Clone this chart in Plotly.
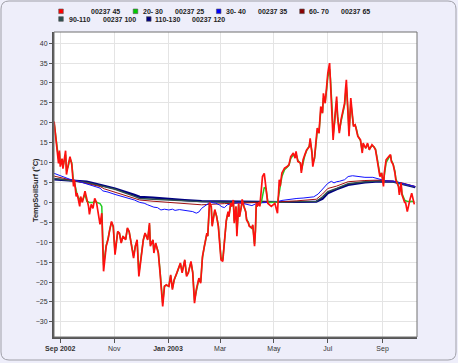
import plotly.graph_objects as go

# ---------------- data ----------------
surface_dates = [
    "2002-08-25", "2002-08-27", "2002-08-30", "2002-08-31",
    "2002-09-01", "2002-09-03", "2002-09-04", "2002-09-07", "2002-09-08", "2002-09-10", "2002-09-12", "2002-09-14",
    "2002-09-16", "2002-09-17", "2002-09-19", "2002-09-20", "2002-09-23", "2002-09-24", "2002-09-26", "2002-09-29",
    "2002-10-01", "2002-10-03", "2002-10-04", "2002-10-06", "2002-10-08", "2002-10-10", "2002-10-12", "2002-10-14",
    "2002-10-16", "2002-10-18", "2002-10-19", "2002-10-20", "2002-10-23", "2002-10-25", "2002-10-27", "2002-10-29", "2002-10-31",
    "2002-11-02", "2002-11-05", "2002-11-07", "2002-11-09", "2002-11-11", "2002-11-14", "2002-11-16", "2002-11-18",
    "2002-11-20", "2002-11-23", "2002-11-25", "2002-11-27", "2002-11-29",
    "2002-12-02", "2002-12-04", "2002-12-06", "2002-12-09", "2002-12-11", "2002-12-12", "2002-12-15", "2002-12-16",
    "2002-12-18", "2002-12-21", "2002-12-23", "2002-12-25", "2002-12-26", "2002-12-28", "2002-12-30",
    "2003-01-02", "2003-01-04", "2003-01-06", "2003-01-08", "2003-01-11", "2003-01-13", "2003-01-15", "2003-01-17",
    "2003-01-20", "2003-01-22", "2003-01-24", "2003-01-27", "2003-01-29", "2003-01-31",
    "2003-02-02", "2003-02-05", "2003-02-07", "2003-02-09", "2003-02-11", "2003-02-14", "2003-02-15", "2003-02-17",
    "2003-02-19", "2003-02-20", "2003-02-23", "2003-02-25", "2003-02-27",
    "2003-03-01", "2003-03-02", "2003-03-04", "2003-03-06", "2003-03-08", "2003-03-10", "2003-03-11", "2003-03-13",
    "2003-03-14", "2003-03-16", "2003-03-17", "2003-03-19", "2003-03-20", "2003-03-22", "2003-03-23", "2003-03-25",
    "2003-03-26", "2003-03-28", "2003-03-30", "2003-03-31",
    "2003-04-02", "2003-04-03", "2003-04-06", "2003-04-07", "2003-04-09", "2003-04-10", "2003-04-11", "2003-04-12",
    "2003-04-14", "2003-04-15", "2003-04-17", "2003-04-18", "2003-04-20", "2003-04-22", "2003-04-24", "2003-04-26",
    "2003-04-28", "2003-04-30",
    "2003-05-02", "2003-05-04", "2003-05-05", "2003-05-07", "2003-05-08", "2003-05-10", "2003-05-13", "2003-05-16",
    "2003-05-18", "2003-05-20", "2003-05-23", "2003-05-25", "2003-05-26", "2003-05-28", "2003-05-31",
    "2003-06-01", "2003-06-03", "2003-06-05", "2003-06-07", "2003-06-10", "2003-06-11", "2003-06-13", "2003-06-14",
    "2003-06-16", "2003-06-19", "2003-06-21", "2003-06-23", "2003-06-25", "2003-06-26", "2003-06-28", "2003-06-30",
    "2003-07-01", "2003-07-03", "2003-07-04", "2003-07-06", "2003-07-07", "2003-07-09", "2003-07-11", "2003-07-12",
    "2003-07-14", "2003-07-16", "2003-07-18", "2003-07-20", "2003-07-21", "2003-07-22", "2003-07-24", "2003-07-25",
    "2003-07-27", "2003-07-28", "2003-07-30",
    "2003-08-01", "2003-08-02", "2003-08-04", "2003-08-07", "2003-08-09", "2003-08-10", "2003-08-13", "2003-08-15",
    "2003-08-17", "2003-08-20", "2003-08-22", "2003-08-24", "2003-08-26", "2003-08-28", "2003-08-29", "2003-08-31",
    "2003-09-02", "2003-09-03", "2003-09-05", "2003-09-08", "2003-09-10", "2003-09-11", "2003-09-13", "2003-09-15",
    "2003-09-16", "2003-09-19", "2003-09-20", "2003-09-22", "2003-09-23", "2003-09-26", "2003-09-27", "2003-09-29",
    "2003-09-30",
    "2003-10-02", "2003-10-04", "2003-10-05", "2003-10-07",
]

temp_00237_45 = [
    20.3, 16.5, 9.8, 13.0,
    9.0, 11.0, 8.5, 13.0, 7.0, 9.5, 11.5, 9.5,
    4.0, 5.7, 1.5, 2.3, -1.0, 1.5, 0.0, 2.8,
    0.7, -1.0, -3.0, -0.5, -1.5, 1.0, 0.0, -3.5,
    -5.5, -2.7, -9.4, -17.3, -11.0, -9.4, -6.9, -4.8, -6.0,
    -13.1, -7.3, -7.7, -10.2, -8.5, -9.4, -6.4, -7.3,
    -10.2, -14.0, -11.0, -9.4, -18.6,
    -12.7, -9.4, -7.7, -9.4, -5.2, -11.0, -9.4, -12.7,
    -10.2, -12.7, -17.7, -23.6, -26.1, -21.1, -20.7,
    -21.1, -18.2, -21.9, -19.4, -17.7, -16.1, -15.2, -17.7,
    -14.4, -18.6, -17.7, -14.8, -17.7, -25.3,
    -21.9, -19.0, -20.3, -13.6, -11.0, -7.7, -8.5, 0.0,
    -1.0, -6.0, -1.8, -3.5, -6.0,
    -10.5, -14.4, -14.8, -9.4, -4.5, -2.3, -3.6, -0.2,
    -1.0, 0.6, -5.2, -1.0, -8.5, -0.2, -3.6, -1.1,
    0.75, -1.0, -2.3, -4.4,
    -5.2, -6.0, -6.4, -5.6, -11.0, -7.0, -0.2, -1.0,
    0.0, -1.0, 3.1, 6.5, 7.3, 3.1, -0.2, -0.6,
    -1.0, -0.6,
    -0.2, -1.9, -2.7, 5.7, 4.0, 7.4, 8.6, 9.0,
    9.5, 11.5, 12.4, 11.1, 12.8, 10.3, 9.9,
    7.4, 10.7, 12.0, 13.2, 14.0, 16.1, 12.4, 9.0,
    11.5, 18.7, 17.4, 24.1, 22.4, 27.4, 24.9, 30.0,
    32.5, 35.0, 30.8, 22.0, 15.7, 21.6, 26.6, 21.6,
    17.4, 20.8, 22.8, 24.9, 28.3, 30.8, 21.6, 16.6,
    26.2, 23.3, 19.1,
    19.5, 18.7, 16.6, 15.7, 12.4, 14.9, 13.6, 14.9,
    13.2, 14.5, 14.0, 13.2, 10.7, 8.2, 6.5, 7.4,
    4.0, 7.4, 10.7, 11.5, 12.0, 10.3, 9.5, 7.4,
    5.7, 4.0, 1.9, 4.9, 1.9, 0.0, 0.0, -2.3,
    -1.0,
    0.7, 2.3, 1.5, -0.5,
]

temp_20_30 = [
    20.0, 16.8, 11.0, 12.5,
    9.8, 10.5, 9.0, 12.0, 8.0, 9.0, 11.0, 10.0,
    5.0, 5.0, 2.5, 2.0, 0.5, 1.2, 0.5, 2.0,
    0.3, 0.0, 0.0, 0.0, 0.0, 0.2, 0.0, 0.0,
    -0.3, -1.0, -6.5, -15.8, -10.8, -9.2, -6.8, -5.0, -6.2,
    -12.5, -7.5, -7.8, -10.0, -8.6, -9.2, -6.6, -7.4,
    -10.0, -13.5, -11.0, -9.6, -17.8,
    -12.5, -9.5, -7.8, -9.2, -5.6, -10.5, -9.5, -12.4,
    -10.3, -12.5, -17.2, -23.0, -25.3, -21.0, -20.8,
    -21.0, -18.4, -21.5, -19.5, -17.8, -16.3, -15.4, -17.4,
    -14.6, -18.2, -17.6, -15.0, -17.5, -24.6,
    -22.0, -19.2, -20.0, -14.0, -11.2, -8.0, -8.4, -0.5,
    -1.2, -5.6, -2.0, -3.4, -5.8,
    -10.0, -13.8, -14.5, -9.6, -4.8, -2.5, -3.4, -0.4,
    -1.0, 0.2, -4.6, -1.2, -7.8, -0.5, -3.4, -1.2,
    0.3, -1.0, -2.4, -4.2,
    -5.0, -5.8, -6.6, -5.8, -10.4, -7.2, -0.6, -1.0,
    -0.2, -0.6, 0.3, 1.5, 3.8, 3.4, 0.2, 0.0,
    0.0, 0.0,
    0.0, 0.0, 0.1, 2.5, 3.8, 6.5, 8.2, 8.8,
    9.3, 11.0, 12.0, 11.3, 12.2, 10.6, 9.8,
    8.0, 10.2, 11.8, 13.0, 14.2, 15.5, 12.8, 9.8,
    11.0, 17.8, 17.6, 23.0, 22.6, 26.2, 25.2, 29.0,
    31.5, 33.5, 31.0, 23.0, 16.8, 20.8, 25.5, 22.0,
    18.0, 20.3, 22.5, 24.5, 27.0, 29.0, 22.5, 17.5,
    25.0, 23.5, 19.5,
    19.3, 18.8, 16.8, 15.5, 12.8, 14.5, 13.8, 14.6,
    13.4, 14.2, 14.0, 13.4, 11.0, 8.6, 7.0, 7.2,
    4.8, 6.8, 10.0, 11.2, 11.8, 10.6, 9.6, 7.8,
    6.0, 4.2, 2.5, 4.2, 2.2, 0.6, 0.4, 0.3,
    0.2,
    0.2, 0.3, 0.3, 0.2,
]

dates_30_40 = [
    "2002-08-25", "2002-08-31", "2002-09-06", "2002-09-12", "2002-09-20", "2002-10-01", "2002-10-10", "2002-10-16",
    "2002-10-19", "2002-10-25", "2002-11-02", "2002-11-10", "2002-11-17", "2002-11-24", "2002-11-30", "2002-12-05",
    "2002-12-09", "2002-12-16", "2002-12-20", "2002-12-24", "2002-12-28", "2003-01-02", "2003-01-06", "2003-01-09",
    "2003-01-14", "2003-01-19", "2003-01-24", "2003-01-29", "2003-02-02", "2003-02-05", "2003-02-08", "2003-02-11",
    "2003-02-14", "2003-02-18", "2003-02-21", "2003-02-24", "2003-02-28", "2003-03-03", "2003-03-06", "2003-03-09",
    "2003-03-15", "2003-03-20", "2003-03-26", "2003-04-01", "2003-04-06", "2003-04-10", "2003-04-15", "2003-04-25",
    "2003-05-05", "2003-05-10", "2003-05-16", "2003-05-20", "2003-05-27", "2003-06-03", "2003-06-10", "2003-06-15",
    "2003-06-20", "2003-06-24", "2003-06-28", "2003-07-01", "2003-07-05", "2003-07-08", "2003-07-11", "2003-07-14",
    "2003-07-20", "2003-07-24", "2003-07-29", "2003-08-05", "2003-08-12", "2003-08-21", "2003-08-29", "2003-09-05",
    "2003-09-13", "2003-09-20", "2003-09-28", "2003-10-08",
]
temp_30_40 = [
    7.3, 6.8, 6.3, 5.8, 5.4, 4.6, 4.0, 3.6,
    2.9, 2.6, 2.0, 1.5, 1.0, 0.6, 0.0, -0.2,
    -0.6, -1.2, -1.3, -1.9, -1.7, -1.9, -1.7, -2.0,
    -1.8, -2.0, -2.2, -2.3, -2.7, -2.4, -1.5, -1.0,
    -0.6, 0.1, -0.1, -0.2, -0.6, -1.1, -1.3, -0.6,
    -0.3, -0.1, -0.2, -0.5, -0.8, -0.4, -0.1, 0.0,
    0.2, 0.5, 0.7, 0.9, 1.0, 1.1, 1.3, 1.4,
    2.1, 3.1, 4.0, 4.8, 5.3, 4.9, 5.2, 5.3,
    5.7, 6.5, 6.7, 6.5, 6.3, 6.3, 5.9, 5.4,
    5.3, 4.9, 4.6, 4.0,
]

dates_deep = [
    "2002-08-25", "2002-09-12", "2002-10-01", "2002-10-16", "2002-10-21", "2002-11-02", "2002-11-24", "2002-11-30",
    "2002-12-15", "2003-01-01", "2003-01-20", "2003-02-08", "2003-03-06", "2003-04-15", "2003-05-10", "2003-05-27",
    "2003-06-18", "2003-06-25", "2003-07-01", "2003-07-11", "2003-07-24", "2003-08-12", "2003-08-28", "2003-09-13",
    "2003-09-25", "2003-10-08",
]
temp_60_70 = [
    6.6, 5.7, 4.8, 4.0, 3.4, 2.6, 1.0, 0.6,
    0.3, 0.0, -0.3, -0.6, -0.3, -0.1, 0.2, 0.4,
    0.8, 2.1, 3.5, 4.1, 5.2, 5.5, 5.6, 5.3,
    4.8, 4.0,
]
temp_90_110 = [
    6.0, 5.6, 5.0, 4.2, 3.9, 3.3, 1.5, 1.0,
    0.8, 0.6, 0.4, 0.2, 0.05, 0.0, 0.05, 0.2,
    0.25, 1.4, 2.7, 3.5, 4.7, 5.2, 5.4, 5.2,
    4.6, 3.9,
]
temp_110_130 = [
    5.8, 5.6, 5.2, 4.4, 4.1, 3.5, 1.9, 1.4,
    1.2, 1.0, 0.6, 0.3, 0.2, 0.1, 0.1, 0.1,
    0.2, 0.9, 2.3, 3.3, 4.4, 5.0, 5.3, 5.2,
    4.6, 3.8,
]

legend_codes = ["", "20- 30", "30- 40", "60- 70", "90-110", "110-130"]
legend_ids = ["00237 45", "00237 25", "00237 35", "00237 65", "00237 100", "00237 120"]

x_tickvals = ["2002-09-01", "2002-11-01", "2003-01-01", "2003-03-01", "2003-05-01", "2003-07-01", "2003-09-01"]
x_ticktext = ["<b>Sep 2002</b>", "Nov", "<b>Jan 2003</b>", "Mar", "May", "Jul", "Sep"]
y_tickvals = list(range(-30, 45, 5))
y_title = "TempSoilSurf (°C)"

assert len(surface_dates) == len(temp_00237_45) == len(temp_20_30)
assert len(dates_30_40) == len(temp_30_40)

# ---------------- figure ----------------
W, H = 458, 363
ML, MR, MT, MB = 54, 41, 32, 26
PW, PH = W - ML - MR, H - MT - MB


def px(xp):
    return (xp - ML) / PW


def py(yp):
    return (H - MB - yp) / PH


FONT = "Liberation Sans, Arial, sans-serif"

fig = go.Figure()

deep = [
    (dates_deep, temp_110_130, "#000080", 2.2),
    (dates_deep, temp_90_110, "#2F4F4F", 1.4),
    (dates_deep, temp_60_70, "#A01010", 1.0),
    (dates_30_40, temp_30_40, "#1010FF", 1.0),
]
for xs, ys, col, w in deep:
    fig.add_trace(go.Scatter(x=xs, y=ys, mode="lines", line=dict(color=col, width=w),
                             showlegend=False, hoverinfo="skip"))

fig.add_trace(go.Scatter(x=surface_dates, y=temp_20_30, mode="lines",
                         line=dict(color="#22CC22", width=1.5), showlegend=False))
fig.add_trace(go.Scatter(x=surface_dates, y=temp_00237_45, mode="lines",
                         line=dict(color="#FF1010", width=1.7), showlegend=False))

shapes = []
annotations = []

# rounded outer border
x0, y0, x1, y1, r = 1, 1, 456, 360, 8
path = (f"M {px(x0 + r)},{py(y0)} L {px(x1 - r)},{py(y0)} Q {px(x1)},{py(y0)} {px(x1)},{py(y0 + r)} "
        f"L {px(x1)},{py(y1 - r)} Q {px(x1)},{py(y1)} {px(x1 - r)},{py(y1)} "
        f"L {px(x0 + r)},{py(y1)} Q {px(x0)},{py(y1)} {px(x0)},{py(y1 - r)} "
        f"L {px(x0)},{py(y0 + r)} Q {px(x0)},{py(y0)} {px(x0 + r)},{py(y0)} Z")
shapes.append(dict(type="path", xref="paper", yref="paper", path=path,
                   line=dict(color="#A0A0A8", width=1), layer="below"))

# plot frame (top/right thin)
shapes.append(dict(type="rect", xref="paper", yref="paper", x0=0, y0=0, x1=1, y1=1,
                   line=dict(color="#707070", width=1), layer="above"))

# custom legend
legend_colors = ["#FF0000", "#00CC00", "#0000FF", "#8B0000", "#2F4F4F", "#000080"]
sq_x = [61, 135.5, 218.7, 302, 61, 148.8]
code_x = [None, 141, 224.3, 307.3, 66.7, 153.3]
id_x = [89.3, 172.7, 256, 339, 100.7, 190]
row_y = [11.3, 11.3, 11.3, 11.3, 19, 19]
for i in range(6):
    s = 2.3
    shapes.append(dict(type="rect", xref="paper", yref="paper",
                       x0=px(sq_x[i] - s), x1=px(sq_x[i] + s),
                       y0=py(row_y[i] + s), y1=py(row_y[i] - s),
                       fillcolor=legend_colors[i], line=dict(color="#555555", width=0.6)))
    if legend_codes[i]:
        annotations.append(dict(xref="paper", yref="paper", x=px(code_x[i]), y=py(row_y[i]),
                                text=f"<b>{legend_codes[i]}</b>", showarrow=False,
                                xanchor="left", yanchor="middle",
                                font=dict(size=7, color="#222222", family=FONT)))
    annotations.append(dict(xref="paper", yref="paper", x=px(id_x[i]), y=py(row_y[i]),
                            text=f"<b>{legend_ids[i]}</b>", showarrow=False,
                            xanchor="left", yanchor="middle",
                            font=dict(size=7, color="#222222", family=FONT)))

# y-axis title
annotations.append(dict(xref="paper", yref="paper", x=px(35.5), y=0.48, text=f"<b>{y_title}</b>",
                        textangle=-90, showarrow=False, xanchor="center", yanchor="middle",
                        font=dict(size=7.5, color="#222222", family=FONT)))

fig.update_layout(
    width=W, height=H,
    margin=dict(l=ML, r=MR, t=MT, b=MB, autoexpand=False),
    paper_bgcolor="#EEEEFA",
    plot_bgcolor="#FFFFFF",
    font=dict(family=FONT, size=7, color="#333333"),
    showlegend=False,
    shapes=shapes,
    annotations=annotations,
    xaxis=dict(
        type="date",
        range=["2002-08-24 21:00", "2003-10-10"],
        tickvals=x_tickvals, ticktext=x_ticktext,
        ticks="outside", ticklen=4, tickcolor="#555555", tickwidth=1,
        tickfont=dict(size=7, color="#333333"),
        showgrid=True, gridcolor="#E4E4E4", gridwidth=1,
        showline=True, linecolor="#555555", linewidth=2,
        zeroline=False, automargin=False,
    ),
    yaxis=dict(
        range=[-33.8, 42.8],
        tickvals=y_tickvals,
        ticks="outside", ticklen=3, tickcolor="#555555", tickwidth=1,
        tickfont=dict(size=7, color="#333333"),
        showgrid=True, gridcolor="#E4E4E4", gridwidth=1,
        showline=True, linecolor="#555555", linewidth=2,
        zeroline=False, automargin=False,
    ),
)

fig.write_html("out.html", config={"displayModeBar": False},
               post_script="document.body.style.margin='0';document.body.style.overflow='hidden';")
